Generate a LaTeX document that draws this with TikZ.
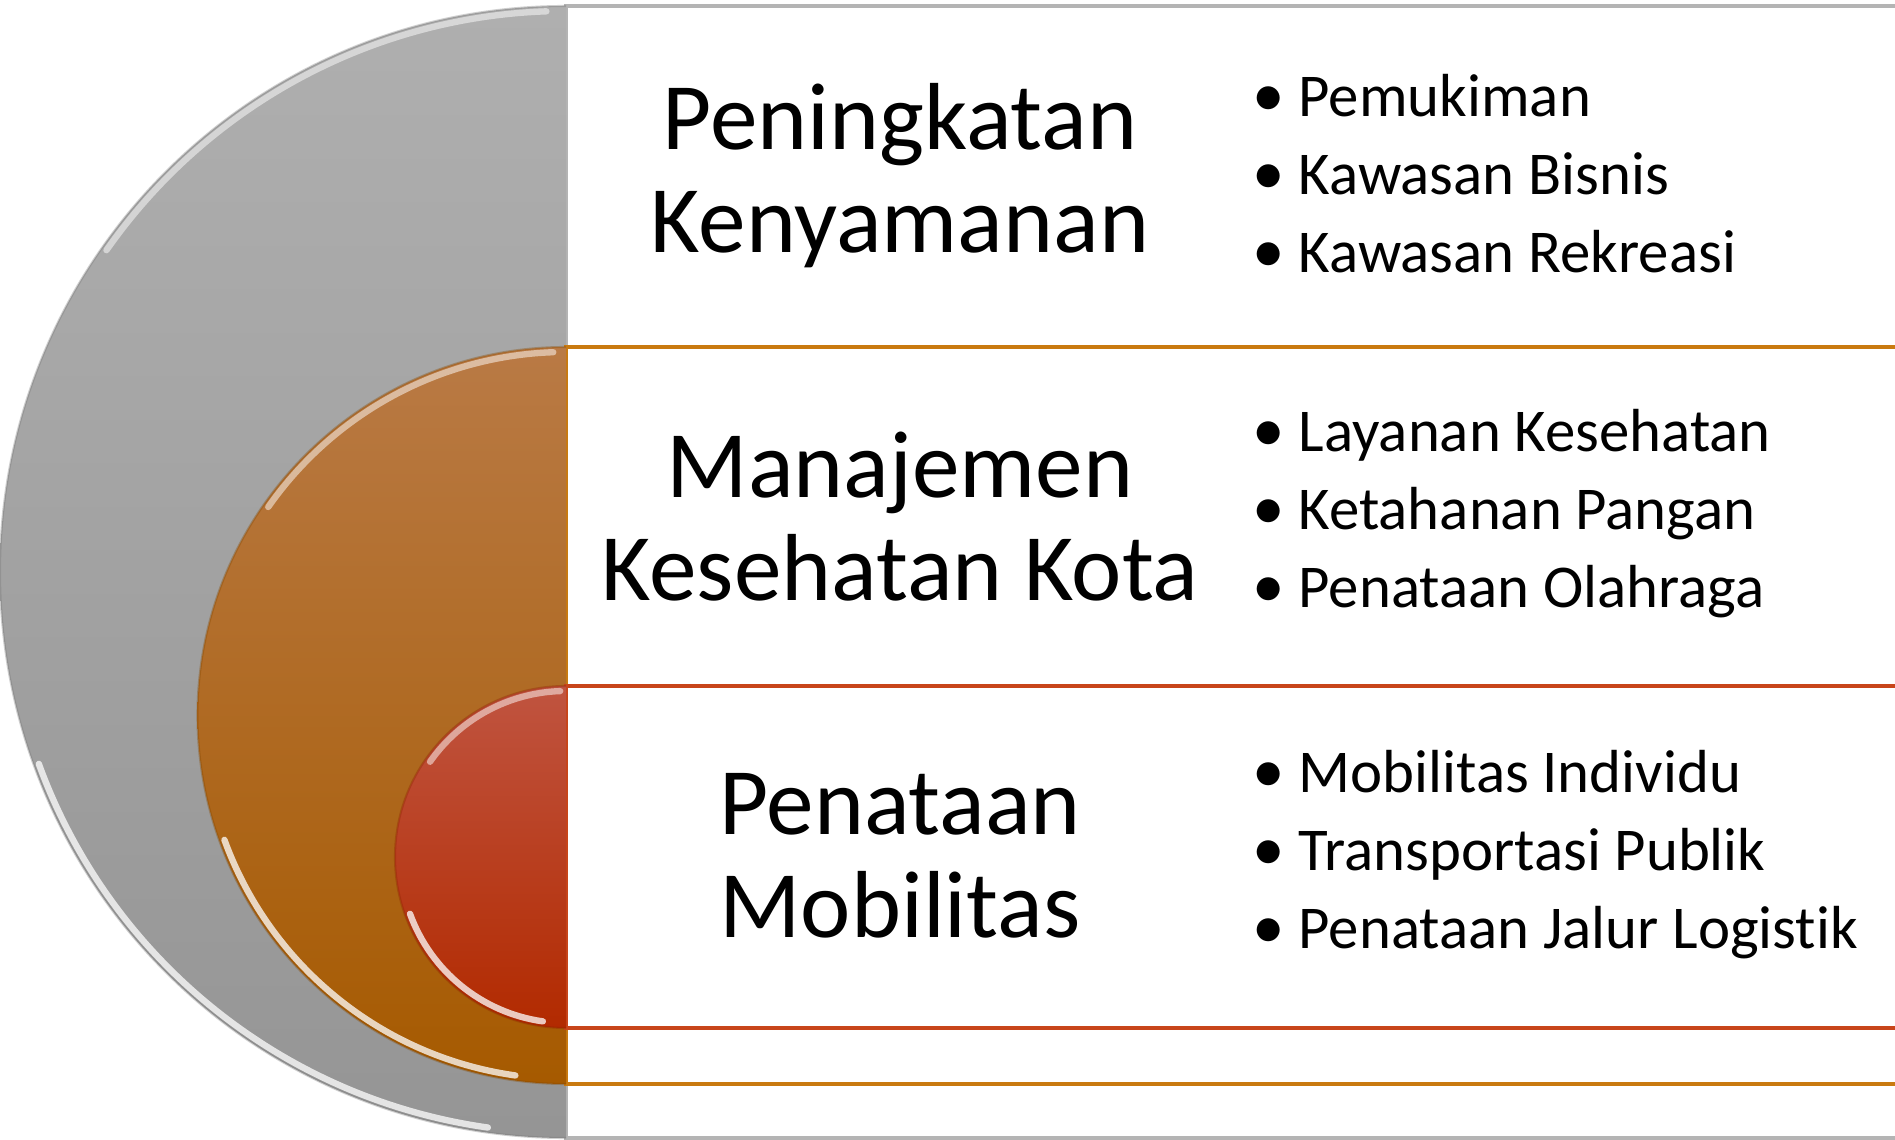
\documentclass[tikz,border=0pt]{standalone}
\usepackage{fontspec}
\setmainfont{Carlito}[Ligatures={NoCommon}]
\usepackage{tikz}

\definecolor{grayTop}{HTML}{AFAFAF}
\definecolor{grayBot}{HTML}{959595}
\definecolor{grayEdge}{HTML}{B4B4B4}
\definecolor{orTop}{HTML}{B97A45}
\definecolor{orBot}{HTML}{A65A00}
\definecolor{orEdge}{HTML}{C97A10}
\definecolor{redTop}{HTML}{C05440}
\definecolor{redBot}{HTML}{B22A00}
\definecolor{redEdge}{HTML}{C8451A}

\tikzset{
  title/.style={align=center, inner sep=0pt, font=\fontsize{27.1}{29.3}\selectfont},
  items/.style={align=left, anchor=west, inner sep=0pt, font=\fontsize{17.3}{22.1}\selectfont},
}
\newcommand{\itm}[1]{\makebox[4.9mm][l]{\hspace{.3mm}\fontsize{18.5}{18.5}\selectfont •}#1}

\begin{document}
\begin{tikzpicture}
    \def \xm {5.66} % straight edge of the half discs
    \def \xt {9.00}
    \def \xb {12.49}
    \clip (0,0) rectangle (18.95,11.40);
    \fill[white] (0,0) rectangle (18.95,11.40);
    \foreach \cy/\r/\ctop/\cbot/\cedge in
      {5.68/5.66/grayTop/grayBot/grayEdge, 4.245/3.685/orTop/orBot/orEdge, 2.83/1.71/redTop/redBot/redEdge}
    {
      \draw[\cedge, fill=white, line width=1.3pt] (\xm,\cy-\r) rectangle (20,\cy+\r);
      \shade[top color=\ctop, bottom color=\cbot] (\xm,\cy+\r) arc (90:270:\r) -- cycle;
      \draw[\cbot!80!black, opacity=.35, line width=.6pt] (\xm,\cy+\r) arc (90:270:\r);
      \draw[white, opacity=.5, line width=1.8pt, line cap=round]
        (\xm,\cy) ++(92:{\r-0.05}) arc (92:145:{\r-0.05});
      \draw[white, opacity=.75, line width=1.8pt, line cap=round]
        (\xm,\cy) ++(200:{\r-0.05}) arc (200:262:{\r-0.05});
    }
    \node[title] (t1) at (\xt,9.64) {Peningkatan\\Kenyamanan};
    \node[title] (t2) at (\xt,6.23) {Manajemen\\Kesehatan Kota};
    \node[title] (t3) at (\xt,2.84) {Penataan\\Mobilitas};
    \node[items] (l1) at (\xb,9.665) {\itm{Pemukiman}\\\itm{Kawasan Bisnis}\\\itm{Kawasan Rekreasi}};
    \node[items] (l2) at (\xb,6.265) {\itm{Layanan Kesehatan}\\\itm{Ketahanan Pangan}\\\itm{Penataan Olahraga}};
    \node[items] (l3) at (\xb,2.855) {\itm{Mobilitas Individu}\\\itm{Transportasi Publik}\\\itm{Penataan Jalur Logistik}};
\end{tikzpicture}
\end{document}
